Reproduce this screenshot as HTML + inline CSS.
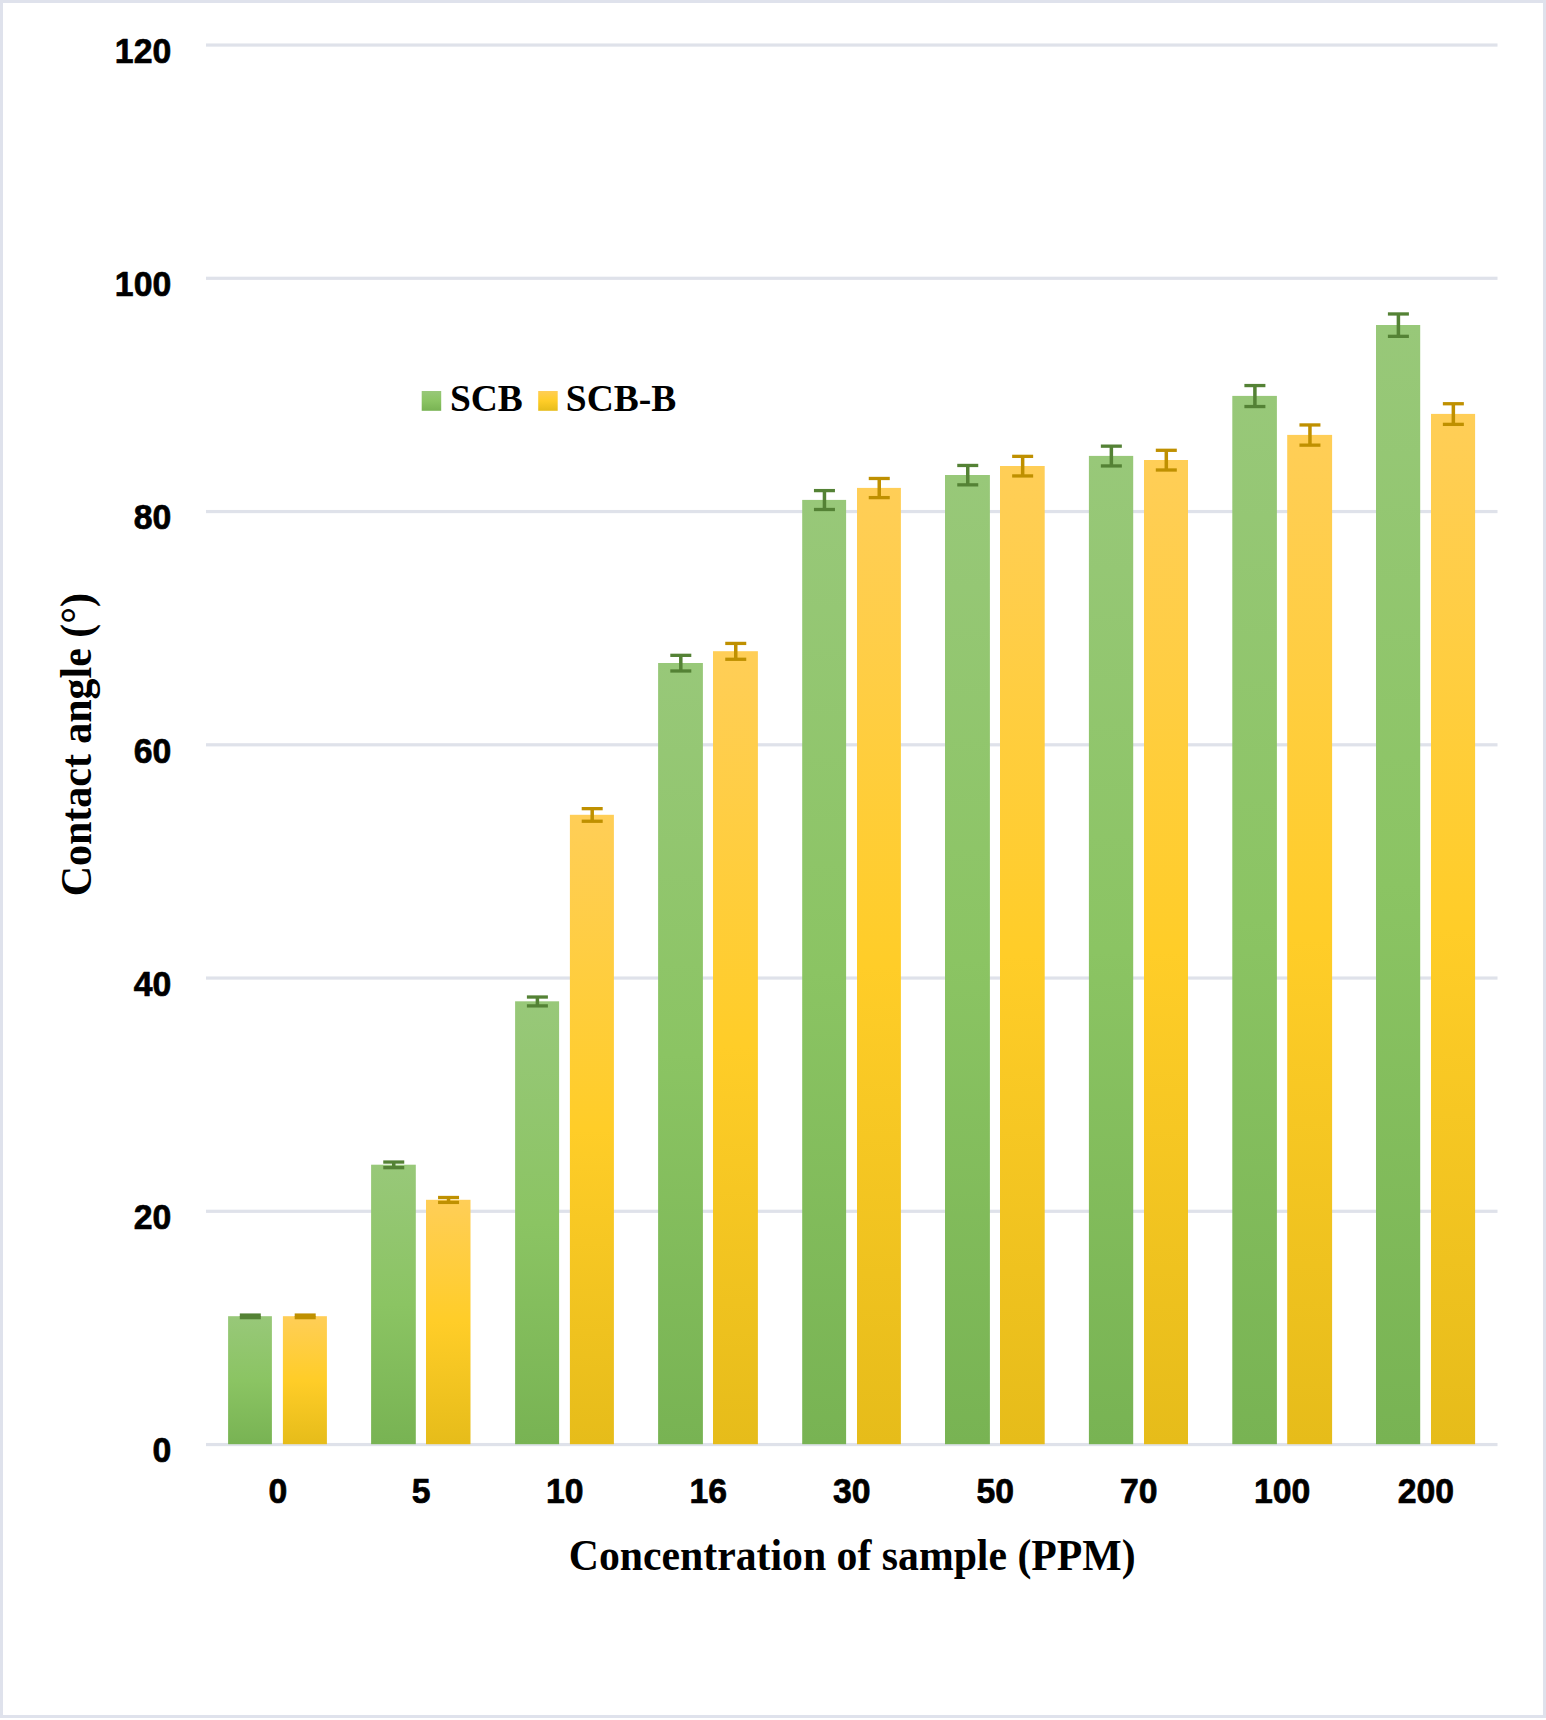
<!DOCTYPE html>
<html lang="en"><head><meta charset="utf-8"><title>Contact angle chart</title>
<style>
html,body{margin:0;padding:0;background:#fff;}
body{width:1546px;height:1720px;overflow:hidden;position:relative;}
svg{position:absolute;left:0;top:0;display:block;}
.num{font-family:"Liberation Sans",sans-serif;font-weight:bold;font-size:35px;fill:#000;stroke:#000;stroke-width:0.7px;stroke-linejoin:round;}
.ser{font-family:"Liberation Serif",serif;font-weight:bold;fill:#000;}
</style></head><body>
<svg width="1546" height="1720" viewBox="0 0 1546 1720">
<defs>
<linearGradient id="gg" x1="0" y1="0" x2="0" y2="1"><stop offset="0" stop-color="#98C879"/><stop offset="0.5" stop-color="#8BC463"/><stop offset="1" stop-color="#78B353"/></linearGradient>
<linearGradient id="gy" x1="0" y1="0" x2="0" y2="1"><stop offset="0" stop-color="#FFCE57"/><stop offset="0.5" stop-color="#FFCD28"/><stop offset="1" stop-color="#E6BC1A"/></linearGradient>
</defs>
<rect x="0" y="0" width="1546" height="1720" fill="#fff"/>
<rect x="1.5" y="1.5" width="1543" height="1715" fill="none" stroke="#DFE2EC" stroke-width="3"/>
<rect x="206.0" y="1442.95" width="1291.5" height="3.2" fill="#DFE2EA"/>
<rect x="206.0" y="1209.70" width="1291.5" height="3.2" fill="#DFE2EA"/>
<rect x="206.0" y="976.45" width="1291.5" height="3.2" fill="#DFE2EA"/>
<rect x="206.0" y="743.20" width="1291.5" height="3.2" fill="#DFE2EA"/>
<rect x="206.0" y="509.95" width="1291.5" height="3.2" fill="#DFE2EA"/>
<rect x="206.0" y="276.70" width="1291.5" height="3.2" fill="#DFE2EA"/>
<rect x="206.0" y="43.45" width="1291.5" height="3.2" fill="#DFE2EA"/>
<rect x="228.10" y="1316.20" width="43.8" height="128.00" fill="url(#gg)"/>
<g fill="#548235"><rect x="248.55" y="1314.92" width="3.5" height="2.57"/><rect x="239.80" y="1313.42" width="21" height="3.3"/><rect x="239.80" y="1315.98" width="21" height="3.3"/></g>
<rect x="282.90" y="1316.20" width="44.0" height="128.00" fill="url(#gy)"/>
<g fill="#BF9000"><rect x="303.45" y="1314.92" width="3.5" height="2.57"/><rect x="294.70" y="1313.42" width="21" height="3.3"/><rect x="294.70" y="1315.98" width="21" height="3.3"/></g>
<rect x="371.10" y="1164.70" width="44.7" height="279.50" fill="url(#gg)"/>
<g fill="#548235"><rect x="392.00" y="1161.90" width="3.5" height="5.60"/><rect x="383.25" y="1160.40" width="21" height="3.3"/><rect x="383.25" y="1166.00" width="21" height="3.3"/></g>
<rect x="426.00" y="1199.80" width="44.5" height="244.40" fill="url(#gy)"/>
<g fill="#BF9000"><rect x="446.80" y="1197.35" width="3.5" height="4.89"/><rect x="438.05" y="1195.85" width="21" height="3.3"/><rect x="438.05" y="1200.75" width="21" height="3.3"/></g>
<rect x="515.10" y="1001.30" width="44.0" height="442.90" fill="url(#gg)"/>
<g fill="#548235"><rect x="535.65" y="996.87" width="3.5" height="8.86"/><rect x="526.90" y="995.37" width="21" height="3.3"/><rect x="526.90" y="1004.23" width="21" height="3.3"/></g>
<rect x="569.90" y="814.80" width="44.0" height="629.40" fill="url(#gy)"/>
<g fill="#BF9000"><rect x="590.45" y="808.50" width="3.5" height="12.59"/><rect x="581.70" y="807.00" width="21" height="3.3"/><rect x="581.70" y="819.60" width="21" height="3.3"/></g>
<rect x="658.10" y="663.00" width="44.8" height="781.20" fill="url(#gg)"/>
<g fill="#548235"><rect x="679.05" y="655.18" width="3.5" height="15.63"/><rect x="670.30" y="653.68" width="21" height="3.3"/><rect x="670.30" y="669.32" width="21" height="3.3"/></g>
<rect x="713.00" y="651.20" width="44.9" height="793.00" fill="url(#gy)"/>
<g fill="#BF9000"><rect x="734.00" y="643.27" width="3.5" height="15.87"/><rect x="725.25" y="641.77" width="21" height="3.3"/><rect x="725.25" y="657.63" width="21" height="3.3"/></g>
<rect x="802.20" y="499.90" width="43.9" height="944.30" fill="url(#gg)"/>
<g fill="#548235"><rect x="822.70" y="490.45" width="3.5" height="18.89"/><rect x="813.95" y="488.95" width="21" height="3.3"/><rect x="813.95" y="507.85" width="21" height="3.3"/></g>
<rect x="857.00" y="487.90" width="43.9" height="956.30" fill="url(#gy)"/>
<g fill="#BF9000"><rect x="877.50" y="478.33" width="3.5" height="19.13"/><rect x="868.75" y="476.83" width="21" height="3.3"/><rect x="868.75" y="495.97" width="21" height="3.3"/></g>
<rect x="945.00" y="475.00" width="44.9" height="969.20" fill="url(#gg)"/>
<g fill="#548235"><rect x="966.00" y="465.31" width="3.5" height="19.39"/><rect x="957.25" y="463.81" width="21" height="3.3"/><rect x="957.25" y="483.19" width="21" height="3.3"/></g>
<rect x="1000.00" y="466.00" width="44.7" height="978.20" fill="url(#gy)"/>
<g fill="#BF9000"><rect x="1020.90" y="456.21" width="3.5" height="19.57"/><rect x="1012.15" y="454.71" width="21" height="3.3"/><rect x="1012.15" y="474.29" width="21" height="3.3"/></g>
<rect x="1088.90" y="455.90" width="44.3" height="988.30" fill="url(#gg)"/>
<g fill="#548235"><rect x="1109.60" y="446.01" width="3.5" height="19.77"/><rect x="1100.85" y="444.51" width="21" height="3.3"/><rect x="1100.85" y="464.29" width="21" height="3.3"/></g>
<rect x="1144.00" y="460.00" width="44.0" height="984.20" fill="url(#gy)"/>
<g fill="#BF9000"><rect x="1164.55" y="450.15" width="3.5" height="19.69"/><rect x="1155.80" y="448.65" width="21" height="3.3"/><rect x="1155.80" y="468.35" width="21" height="3.3"/></g>
<rect x="1232.30" y="395.90" width="44.6" height="1048.30" fill="url(#gg)"/>
<g fill="#548235"><rect x="1253.15" y="385.41" width="3.5" height="20.97"/><rect x="1244.40" y="383.91" width="21" height="3.3"/><rect x="1244.40" y="404.89" width="21" height="3.3"/></g>
<rect x="1287.20" y="434.90" width="44.9" height="1009.30" fill="url(#gy)"/>
<g fill="#BF9000"><rect x="1308.20" y="424.80" width="3.5" height="20.19"/><rect x="1299.45" y="423.30" width="21" height="3.3"/><rect x="1299.45" y="443.50" width="21" height="3.3"/></g>
<rect x="1376.00" y="325.00" width="44.2" height="1119.20" fill="url(#gg)"/>
<g fill="#548235"><rect x="1396.65" y="313.81" width="3.5" height="22.39"/><rect x="1387.90" y="312.31" width="21" height="3.3"/><rect x="1387.90" y="334.69" width="21" height="3.3"/></g>
<rect x="1431.00" y="413.90" width="44.1" height="1030.30" fill="url(#gy)"/>
<g fill="#BF9000"><rect x="1451.60" y="403.59" width="3.5" height="20.61"/><rect x="1442.85" y="402.09" width="21" height="3.3"/><rect x="1442.85" y="422.71" width="21" height="3.3"/></g>
<text class="num" transform="translate(171.2 1462.2) scale(0.965 1)" text-anchor="end">0</text>
<text class="num" transform="translate(171.2 1229.0) scale(0.965 1)" text-anchor="end">20</text>
<text class="num" transform="translate(171.2 995.7) scale(0.965 1)" text-anchor="end">40</text>
<text class="num" transform="translate(171.2 762.5) scale(0.965 1)" text-anchor="end">60</text>
<text class="num" transform="translate(171.2 529.2) scale(0.965 1)" text-anchor="end">80</text>
<text class="num" transform="translate(171.2 295.9) scale(0.965 1)" text-anchor="end">100</text>
<text class="num" transform="translate(171.2 62.7) scale(0.965 1)" text-anchor="end">120</text>
<text class="num" transform="translate(277.8 1503.1) scale(0.965 1)" text-anchor="middle">0</text>
<text class="num" transform="translate(421.2 1503.1) scale(0.965 1)" text-anchor="middle">5</text>
<text class="num" transform="translate(564.8 1503.1) scale(0.965 1)" text-anchor="middle">10</text>
<text class="num" transform="translate(708.2 1503.1) scale(0.965 1)" text-anchor="middle">16</text>
<text class="num" transform="translate(851.8 1503.1) scale(0.965 1)" text-anchor="middle">30</text>
<text class="num" transform="translate(995.2 1503.1) scale(0.965 1)" text-anchor="middle">50</text>
<text class="num" transform="translate(1138.8 1503.1) scale(0.965 1)" text-anchor="middle">70</text>
<text class="num" transform="translate(1282.2 1503.1) scale(0.965 1)" text-anchor="middle">100</text>
<text class="num" transform="translate(1425.8 1503.1) scale(0.965 1)" text-anchor="middle">200</text>
<rect x="421.7" y="391" width="19.5" height="19.8" fill="url(#gg)"/>
<text class="ser" transform="translate(449.9 411.2) scale(1 1.035)" font-size="37.5">SCB</text>
<rect x="538.2" y="391" width="19.5" height="19.8" fill="url(#gy)"/>
<text class="ser" transform="translate(565.8 411.2) scale(1 1.035)" font-size="37.5">SCB-B</text>
<text class="ser" transform="translate(852.2 1569.8) scale(1 1.04)" font-size="41.75" text-anchor="middle">Concentration of sample (PPM)</text>
<text class="ser" transform="translate(91.4 744.6) rotate(-90) scale(1 1.04)" font-size="41.95" text-anchor="middle">Contact angle (°)</text>
</svg></body></html>
